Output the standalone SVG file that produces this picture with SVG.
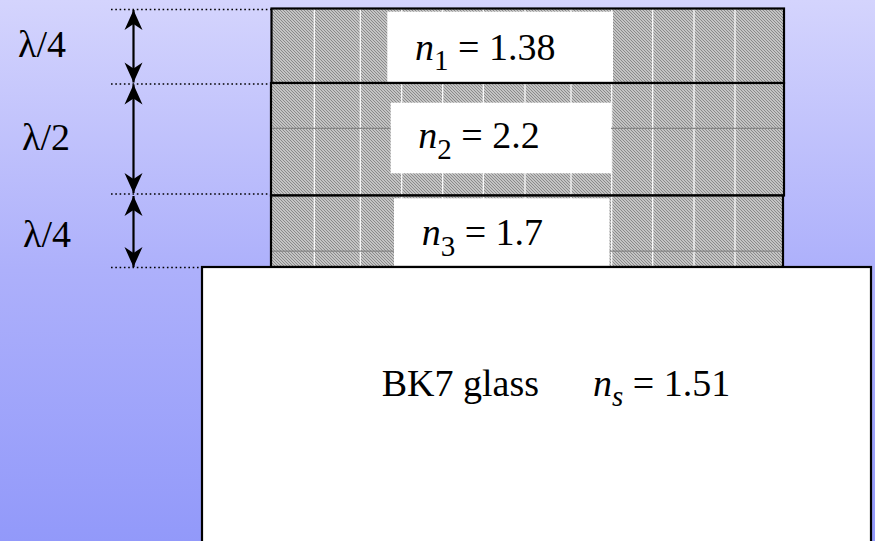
<svg xmlns="http://www.w3.org/2000/svg" width="875" height="541" viewBox="0 0 875 541">
  <defs>
    <linearGradient id="bg" x1="0" y1="0" x2="0" y2="1">
      <stop offset="0" stop-color="#D4D4FD"/>
      <stop offset="0.5" stop-color="#ADB0FB"/>
      <stop offset="1" stop-color="#9299FA"/>
    </linearGradient>
    <pattern id="hatch" patternUnits="userSpaceOnUse" width="3" height="3">
      <rect width="3" height="3" fill="#DCDCDC"/>
      <path d="M-1,-1 L4,4 M-1,2 L1,4 M2,-1 L4,1" stroke="#868686" stroke-width="1.05"/>
    </pattern>
    <marker id="ah" viewBox="-21 -10 22 20" refX="0" refY="0" markerUnits="userSpaceOnUse" markerWidth="22" markerHeight="20" orient="auto-start-reverse">
      <path d="M0,0 L-20,-9 L-14,0 L-20,9 Z" fill="#000"/>
    </marker>
  </defs>
  <style>
    .layer { fill: url(#hatch); }
    .border { fill: none; stroke: #000; stroke-width: 2.2; }
    .vline { stroke: #FFFFFF; stroke-width: 1.2; }
    .hline { stroke: #858585; stroke-width: 1.2; }
    .box { fill: #FFFFFF; }
    .lbl { font-family: 'Liberation Serif', 'Times New Roman', serif; font-size: 38px; fill: #000; }
    .it { font-style: italic; }
    .dot { stroke: #000; stroke-width: 1.6; stroke-dasharray: 1.6 2.7; fill: none; }
    .arr { stroke: #000; stroke-width: 2.2; fill: none; }
  </style>

  <rect x="0" y="0" width="875" height="541" fill="url(#bg)"/>

  <g id="layer1">
    <rect class="layer" x="271.5" y="8.5" width="512.5" height="74.5"/>
    <g class="vline">
      <line x1="314.3" y1="9" x2="314.3" y2="82"/><line x1="360.3" y1="9" x2="360.3" y2="82"/>
      <line x1="401.7" y1="9" x2="401.7" y2="82"/><line x1="442.7" y1="9" x2="442.7" y2="82"/>
      <line x1="483.3" y1="9" x2="483.3" y2="82"/><line x1="525" y1="9" x2="525" y2="82"/>
      <line x1="571" y1="9" x2="571" y2="82"/><line x1="611.7" y1="9" x2="611.7" y2="82"/>
      <line x1="652.7" y1="9" x2="652.7" y2="82"/><line x1="694" y1="9" x2="694" y2="82"/>
      <line x1="735" y1="9" x2="735" y2="82"/>
    </g>
    <rect class="box" x="387.3" y="11.7" width="225.7" height="71"/>
    <rect class="border" x="271.5" y="8.5" width="512.5" height="74.5"/>
    <text class="lbl" font-family="Liberation Serif, serif" x="415" y="60"><tspan class="it">n</tspan><tspan font-size="29" dy="10">1</tspan><tspan dy="-10"> = 1.38</tspan></text>
  </g>

  <g id="layer2">
    <rect class="layer" x="271" y="83" width="513" height="112.5"/>
    <g class="vline">
      <line x1="314.3" y1="84" x2="314.3" y2="195"/><line x1="360.3" y1="84" x2="360.3" y2="195"/>
      <line x1="401.7" y1="84" x2="401.7" y2="195"/><line x1="442.7" y1="84" x2="442.7" y2="195"/>
      <line x1="483.3" y1="84" x2="483.3" y2="195"/><line x1="525" y1="84" x2="525" y2="195"/>
      <line x1="571" y1="84" x2="571" y2="195"/><line x1="611.7" y1="84" x2="611.7" y2="195"/>
      <line x1="652.7" y1="84" x2="652.7" y2="195"/><line x1="694" y1="84" x2="694" y2="195"/>
      <line x1="735" y1="84" x2="735" y2="195"/>
    </g>
    <line class="hline" x1="272" y1="128.3" x2="783" y2="128.3"/>
    <rect class="box" x="390.7" y="102.7" width="220.3" height="70.6"/>
    <rect class="border" x="271" y="83" width="513" height="112.5"/>
    <text class="lbl" font-family="Liberation Serif, serif" x="418.3" y="148.3"><tspan class="it">n</tspan><tspan font-size="29" dy="11">2</tspan><tspan dy="-11"> = 2.2</tspan></text>
  </g>

  <g id="layer3">
    <rect class="layer" x="271" y="195.5" width="512" height="71.5"/>
    <g class="vline">
      <line x1="314.3" y1="197" x2="314.3" y2="266"/><line x1="360.3" y1="197" x2="360.3" y2="266"/>
      <line x1="401.7" y1="197" x2="401.7" y2="266"/><line x1="442.7" y1="197" x2="442.7" y2="266"/>
      <line x1="483.3" y1="197" x2="483.3" y2="266"/><line x1="525" y1="197" x2="525" y2="266"/>
      <line x1="571" y1="197" x2="571" y2="266"/><line x1="611.7" y1="197" x2="611.7" y2="266"/>
      <line x1="652.7" y1="197" x2="652.7" y2="266"/><line x1="694" y1="197" x2="694" y2="266"/>
      <line x1="735" y1="197" x2="735" y2="266"/>
    </g>
    <line class="hline" x1="272" y1="251.2" x2="782" y2="251.2"/>
    <rect class="box" x="394" y="198.3" width="215.5" height="68.7"/>
    <rect class="border" x="271" y="195.5" width="512" height="71.5"/>
    <text class="lbl" font-family="Liberation Serif, serif" x="421.7" y="245"><tspan class="it">n</tspan><tspan font-size="29" dy="11">3</tspan><tspan dy="-11"> = 1.7</tspan></text>
  </g>

  <g id="substrate">
    <rect x="202" y="267" width="669" height="290" fill="#FFFFFF" stroke="#000" stroke-width="2.2"/>
    <text class="lbl" font-family="Liberation Serif, serif" x="381.7" y="395.7" font-size="37">BK7 glass</text>
    <text class="lbl" font-family="Liberation Serif, serif" x="593" y="395.7" font-size="37"><tspan class="it">n</tspan><tspan class="it" font-size="29" dy="10">s</tspan><tspan dy="-10"> = 1.51</tspan></text>
  </g>

  <g id="labels">
    <text class="lbl" font-family="Liberation Serif, serif" x="18" y="56.7" font-size="36">λ/4</text>
    <text class="lbl" font-family="Liberation Serif, serif" x="22" y="150" font-size="36">λ/2</text>
    <text class="lbl" font-family="Liberation Serif, serif" x="23" y="247" font-size="36">λ/4</text>
  </g>

  <g id="connectors">
    <line class="dot" x1="111" y1="9.5" x2="271" y2="9.5"/>
    <line class="dot" x1="111" y1="84" x2="271" y2="84"/>
    <line class="dot" x1="111" y1="194" x2="271" y2="194"/>
    <line class="dot" x1="111" y1="267.5" x2="202" y2="267.5"/>
    <line class="arr" x1="133.5" y1="10" x2="133.5" y2="82.5" marker-start="url(#ah)" marker-end="url(#ah)"/>
    <line class="arr" x1="133.5" y1="84.5" x2="133.5" y2="193" marker-start="url(#ah)" marker-end="url(#ah)"/>
    <line class="arr" x1="133.5" y1="196" x2="133.5" y2="267" marker-start="url(#ah)" marker-end="url(#ah)"/>
  </g>
</svg>
